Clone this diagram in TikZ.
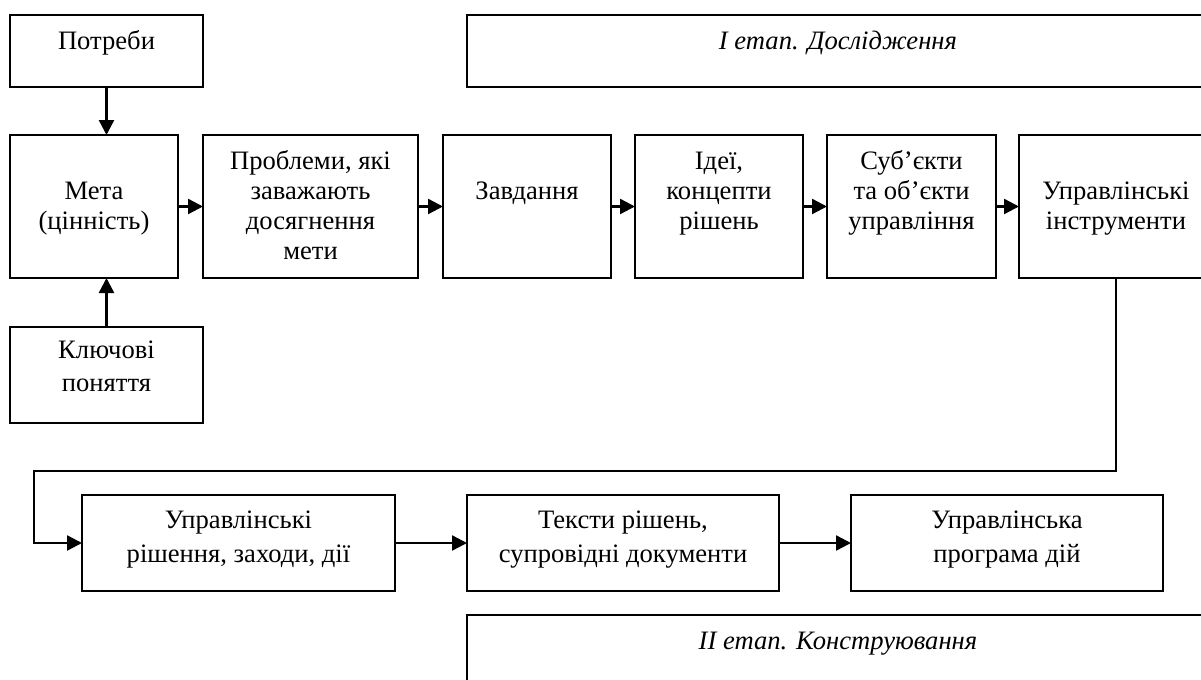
\documentclass[tikz,border=0pt]{standalone}
\usepackage{fontspec}
\setmainfont{Liberation Serif}
\usetikzlibrary{arrows.meta}
\newcommand{\boxtext}[4]{\begin{minipage}[c][#2][t]{#1}\centering\rule{0pt}{#3}#4\end{minipage}}
\tikzset{
    stepbox/.style = {draw, line width=1pt, inner sep=0pt, outer sep=0pt},
    arr/.style = {line width=1.2pt, -{Triangle[length=7.5pt,width=7.5pt]}},
    lowrow/.style = {font=\fontsize{13.3}{17}\selectfont}
}
\begin{document}
\begin{tikzpicture}[x=0.5pt,y=-0.5pt,font=\fontsize{13.3}{15}\selectfont]
            \useasboundingbox (0,0) rectangle (1201,680);
            \node[stepbox] (potr) at (106.5,51) {\boxtext{96.5pt}{36pt}{17pt}{Потреби}};
            \node[stepbox] (etap1) at (838,51) {\boxtext{371pt}{36pt}{17pt}{\itshape I етап. Дослідження}};
            \node[stepbox] (meta) at (94,206.5) {\boxtext{84pt}{71.5pt}{17pt}{\\Мета\\(цінність)}};
            \node[stepbox] (probl) at (310.5,206.5) {\boxtext{107.5pt}{71.5pt}{17pt}{Проблеми, які\\заважають\\досягнення\\мети}};
            \node[stepbox] (zavd) at (527,206.5) {\boxtext{84pt}{71.5pt}{17pt}{\\Завдання}};
            \node[stepbox] (idei) at (719,206.5) {\boxtext{84pt}{71.5pt}{17pt}{Ідеї,\\концепти\\рішень}};
            \node[stepbox] (subj) at (911.5,206.5) {\boxtext{84.5pt}{71.5pt}{17pt}{Суб’єкти\\та об’єкти\\управління}};
            \node[stepbox] (instr) at (1116,206.5) {\boxtext{97pt}{71.5pt}{17pt}{\\Управлінські\\інструменти}};
            \node[stepbox,font=\fontsize{13.3}{16.5}\selectfont] (klyuch) at (106.5,375) {\boxtext{96.5pt}{48pt}{15.5pt}{Ключові\\поняття}};
            \node[stepbox,lowrow] (rish) at (238.5,543) {\boxtext{156.5pt}{48pt}{16.5pt}{Управлінські\\рішення, заходи, дії}};
            \node[stepbox,lowrow] (teksty) at (623,543) {\boxtext{156pt}{48pt}{16.5pt}{Тексти рішень,\\супровідні документи}};
            \node[stepbox,lowrow] (prog) at (1007,543) {\boxtext{156pt}{48pt}{16.5pt}{Управлінська\\програма дій}};
            \node[stepbox] (etap2) at (838,651) {\boxtext{371pt}{36pt}{17pt}{\itshape II етап. Конструювання}};
            \coordinate (bend) at (34,471);
            \draw[arr] (potr) -- (potr |- meta.north);
            \draw[arr] (klyuch) -- (klyuch |- meta.south);
            \foreach \a/\b in {meta/probl,probl/zavd,zavd/idei,idei/subj,subj/instr,rish/teksty,teksty/prog}
                \draw[arr] (\a) -- (\b);
            \draw[arr] (instr.south) |- (bend) |- (rish.west);
        \end{tikzpicture}
\end{document}
